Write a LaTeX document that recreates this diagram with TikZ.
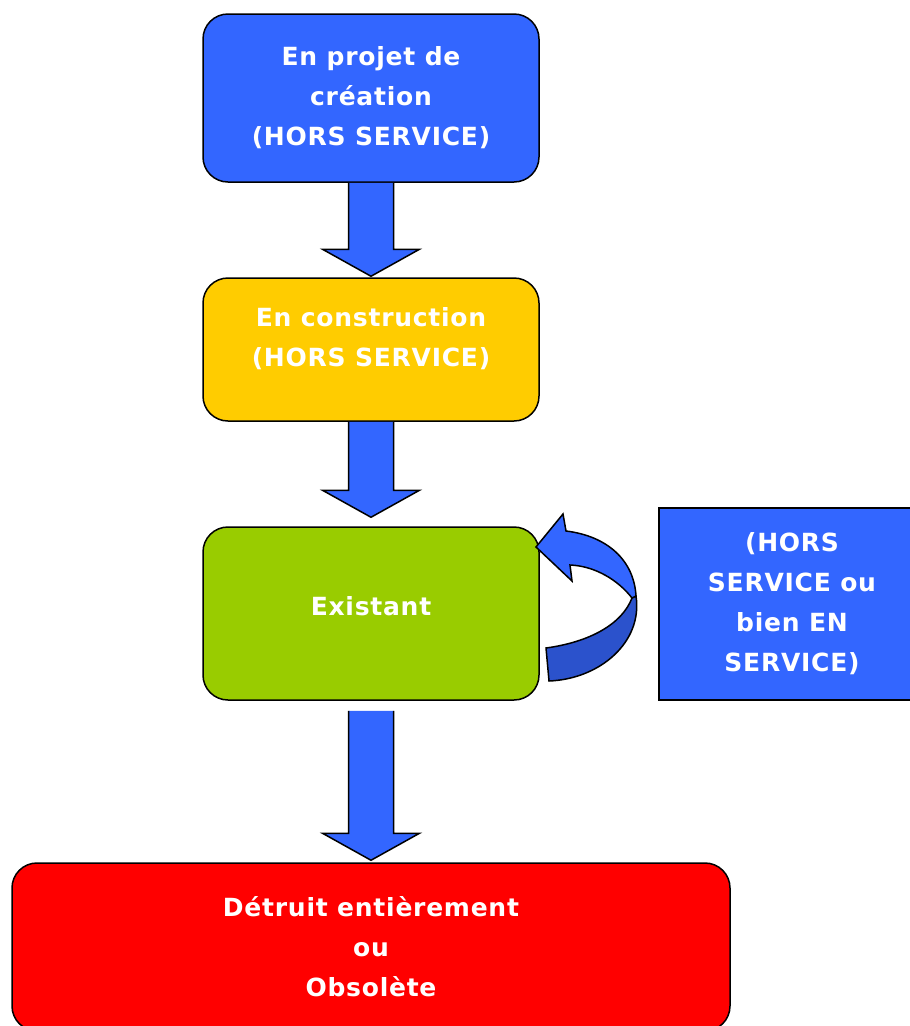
\documentclass[tikz,border=0pt]{standalone}
\usepackage{fontspec}
\newfontfamily\boitefont{DejaVu Sans}[LetterSpace=3]
\usetikzlibrary{calc}
\definecolor{bleu}{HTML}{3366FF}
\definecolor{bleufonce}{HTML}{2B52CC}
\definecolor{jaune}{HTML}{FFCC00}
\definecolor{vert}{HTML}{99CC00}
\definecolor{rouge}{HTML}{FF0000}
\tikzset{
  boite/.style={draw,line width=1.5pt,rounded corners=25pt,text=white,align=center,
    minimum width=336pt,font=\boitefont\bfseries\fontsize{25}{40}\selectfont},
  fleche/.style={draw,fill=bleu,line width=1.5pt,line join=miter}
}
% bloc arrow: from node, to node, gap at top, gap at bottom
\newcommand{\flechebloc}[4]{
  \path[fleche] ($(#1.south)+(-22.5,#3)$) -- ($(#2.north)+(-22.5,-27-#4)$)
    -- ($(#2.north)+(-48.5,-27-#4)$) -- ($(#2.north)+(0,-#4)$)
    -- ($(#2.north)+(48.5,-27-#4)$) -- ($(#2.north)+(22.5,-27-#4)$)
    -- ($(#1.south)+(22.5,#3)$);
}
\begin{document}
\begin{tikzpicture}[x=1pt,y=-1pt]
            \useasboundingbox (0,0) rectangle (910,1026);
            \clip (0,0) rectangle (910,1026);
            \node[boite,fill=bleu,minimum height=168pt] (projet) at (371,98) {En projet de\\cr\'eation\\(HORS SERVICE)};
            \node[boite,fill=jaune,minimum height=143pt,text depth=26pt] (construction) at (371,349.5) {En construction\\(HORS SERVICE)};
            \node[boite,fill=vert,minimum height=173pt,text depth=16pt] (existant) at (371,613.5) {Existant};
            \node[boite,fill=rouge,minimum width=718pt,minimum height=168pt] (detruit) at (371,947) {D\'etruit enti\`erement\\ou\\Obsol\`ete};
            \node[boite,rounded corners=0pt,fill=bleu,minimum width=266pt,minimum height=192pt] (etat) at (792,604) {(HORS\\SERVICE ou\\bien EN\\SERVICE)};
            \flechebloc{projet}{construction}{0}{1}
            \flechebloc{construction}{existant}{0}{9}
            \flechebloc{existant}{detruit}{10}{2}
            % boucle sur Existant
            \path[fleche,fill=bleufonce] (632,598) -- (636,596) .. controls (643,642) and (600,679) .. (549,681)
                -- (546,648) .. controls (590,642) and (622,624) .. cycle;
            \path[fleche] (563,514) -- (566,531) .. controls (607,536) and (634,560) .. (636,596)
                -- (632,598) .. controls (618,580) and (595,566) .. (570,565) -- (572,581) -- (536,547) -- cycle;
        \end{tikzpicture}
\end{document}
